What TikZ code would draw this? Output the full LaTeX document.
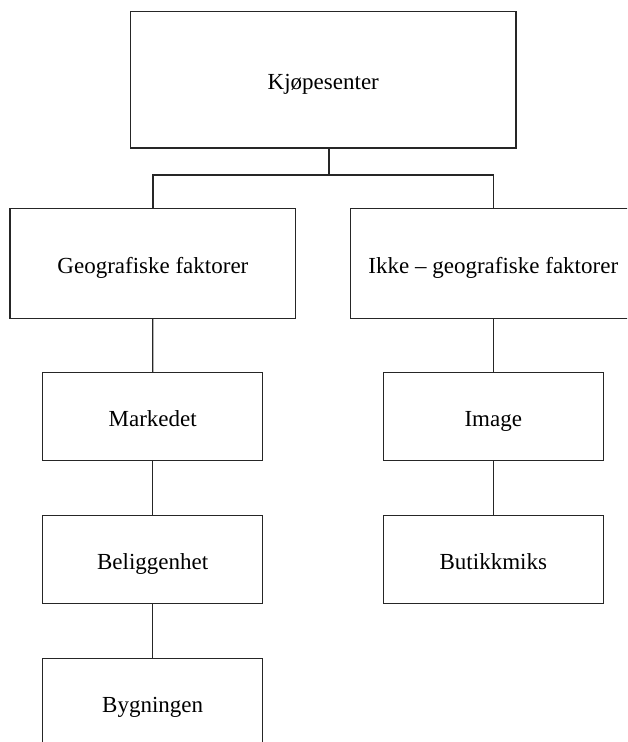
\documentclass[tikz,border=0pt]{standalone}
\usepackage{fontspec}
\setmainfont{Liberation Serif}
\begin{document}
\begin{tikzpicture}[x=1pt,y=-1pt,
  box/.style={draw=black!85, line width=1.2pt, rectangle, inner sep=0pt,
    text height=19.5pt, text depth=0pt,
    font=\fontsize{23}{27}\selectfont},
  link/.style={draw=black!85, line width=1.2pt}]
\useasboundingbox (0,0) rectangle (627,742);
\clip (0,0) rectangle (627,742);
\node[box, minimum width=385.3pt, minimum height=136.7pt] (top) at (323.3,79.7) {Kjøpesenter};
\node[box, minimum width=285.7pt, minimum height=110pt] (geo) at (152.9,263.3) {Geografiske faktorer};
\node[box, minimum width=285.3pt, minimum height=110pt] (ikke) at (493.3,263.3) {Ikke – geografiske faktorer};
\node[box, minimum width=220pt, minimum height=88pt] (mark) at (152.7,416.7) {Markedet};
\node[box, minimum width=220pt, minimum height=88pt] (bel) at (152.7,559.5) {Beliggenhet};
\node[box, minimum width=220pt, minimum height=88pt] (byg) at (152.7,702.3) {Bygningen};
\node[box, minimum width=220pt, minimum height=88pt] (img) at (493.3,416.7) {Image};
\node[box, minimum width=220pt, minimum height=88pt] (but) at (493.3,559.5) {Butikkmiks};
\coordinate (j) at (329,175);
\draw[link] (top.south -| j) -- (j);
\draw[link] (geo.north) |- (j) -| (ikke.north);
\draw[link] (geo) -- (mark);
\draw[link] (mark) -- (bel);
\draw[link] (bel) -- (byg);
\draw[link] (ikke) -- (img);
\draw[link] (img) -- (but);
\end{tikzpicture}
\end{document}
